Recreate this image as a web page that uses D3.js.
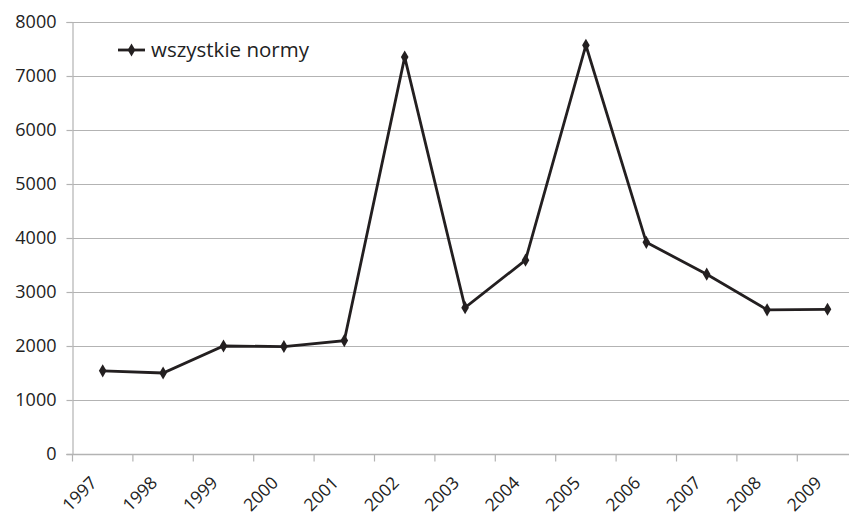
<!DOCTYPE html>
<html><head><meta charset="utf-8">
<script src="https://cdn.jsdelivr.net/npm/d3@7"></script>
<style>body{margin:0;background:#fff}svg{display:block}</style>
</head><body>
<svg id="c" width="849" height="517"></svg>
<script>
const years = ["1997","1998","1999","2000","2001","2002","2003","2004","2005","2006","2007","2008","2009"];
const values = [1540,1500,2000,1990,2100,7350,2710,3590,7570,3920,3330,2670,2680];
const yTicks = [0,1000,2000,3000,4000,5000,6000,7000,8000];
const seriesName = "wszystkie normy";

(function(){
const svg = d3.select("#c");
const font = "'Open Sans', 'Noto Sans', sans-serif";
const mLeft = 72.5, mTop = 22, mBottom = 454, bandW = 60.4;
const x = d3.scaleBand().domain(years).range([mLeft, mLeft + bandW*years.length]);
const y = d3.scaleLinear().domain([0, 8000]).range([mBottom, mTop]);
const grid = "#b3b3b3";

// gridlines
svg.append("g").selectAll("line").data(yTicks.filter(d=>d>0)).join("line")
  .attr("x1", mLeft).attr("x2", 849)
  .attr("y1", d=>Math.round(y(d))+0.5).attr("y2", d=>Math.round(y(d))+0.5)
  .attr("stroke", grid).attr("stroke-width", 1.2);

// y axis
const ya = svg.append("g").attr("transform", `translate(${mLeft},0)`)
  .call(d3.axisLeft(y).tickValues(yTicks).tickSize(6).tickPadding(10).tickFormat(d3.format("d")));
ya.select(".domain").attr("stroke", grid).attr("stroke-width", 1.2);
ya.selectAll(".tick line").attr("stroke", grid).attr("stroke-width", 1.2);
ya.selectAll("text").attr("font-family", font).attr("font-size", 18).attr("fill", "#222");

// x axis
const xa = svg.append("g").attr("transform", `translate(0,${Math.round(y(0))+0.5})`);
xa.append("line").attr("x1", mLeft-6).attr("x2", 849).attr("stroke", grid).attr("stroke-width", 1.5);
const bounds = years.map(d => x(d)).concat([x(years[years.length-1]) + bandW]);
xa.selectAll("line.t").data(bounds).join("line").attr("class","t")
  .attr("x1", d=>d).attr("x2", d=>d).attr("y1", 0).attr("y2", 7)
  .attr("stroke", grid).attr("stroke-width", 1.2);
xa.selectAll("text").data(years).join("text")
  .attr("transform", d => `translate(${x(d)+x.bandwidth()/2-9},${25}) rotate(-45)`)
  .attr("text-anchor", "end").attr("dy", "0.35em")
  .attr("font-family", font).attr("font-size", 17.5).attr("fill", "#222")
  .text(d=>d);

// line
const cx = d => x(d) + x.bandwidth()/2;
const line = d3.line().x((d,i)=>cx(years[i])).y(d=>y(d));
svg.append("path").datum(values).attr("d", line)
  .attr("fill", "none").attr("stroke", "#231f20").attr("stroke-width", 2.8).attr("stroke-linejoin", "miter");
const diamond = d3.symbol().type(d3.symbolDiamond).size(50);
svg.append("g").selectAll("path").data(values).join("path")
  .attr("d", diamond).attr("transform", (d,i)=>`translate(${cx(years[i])},${y(d)})`)
  .attr("fill", "#231f20");

// legend
const lg = svg.append("g").attr("transform", "translate(118,50)");
lg.append("line").attr("x1", 0).attr("x2", 27).attr("stroke", "#231f20").attr("stroke-width", 2.8);
lg.append("path").attr("d", diamond).attr("transform", "translate(13.5,0)").attr("fill", "#231f20");
lg.append("text").attr("x", 33).attr("dy", "0.35em").attr("font-family", font).attr("font-size", 20.5)
  .attr("fill", "#222").text(seriesName);
})();
</script>
</body></html>
